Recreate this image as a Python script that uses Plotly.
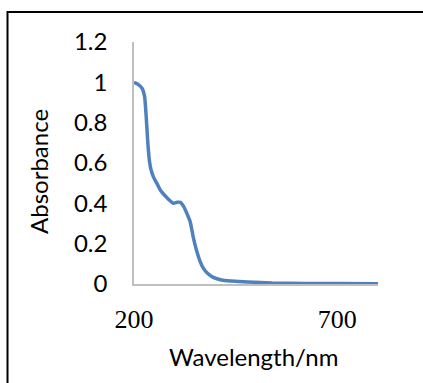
import plotly.graph_objects as go

# UV-Vis absorption spectrum
wavelength_nm = [200, 210, 220, 226, 230, 234, 238, 242, 248, 256, 265, 280, 297, 306,
                 314, 322, 330, 338, 346, 354, 362, 370, 380, 395, 415, 440, 480, 540,
                 620, 700, 800]
absorbance = [1.0, 0.99, 0.97, 0.93, 0.83, 0.70, 0.61, 0.565, 0.53, 0.50, 0.465, 0.43,
              0.40, 0.405, 0.405, 0.385, 0.35, 0.31, 0.23, 0.165, 0.115, 0.08, 0.055,
              0.033, 0.02, 0.015, 0.01, 0.005, 0.003, 0.002, 0.0015]

x_ticks = [200, 700]
y_ticks = [0, 0.2, 0.4, 0.6, 0.8, 1, 1.2]
y_tick_text = ["0", "0.2", "0.4", "0.6", "0.8", "1", "1.2"]

W, H = 423, 383
L, R, T, B = 134, 45, 42, 99
pw, ph = W - L - R, H - T - B


def px_to_paper(px, py):
    return (px - L) / pw, (H - B - py) / ph


fig = go.Figure()
fig.add_trace(go.Scatter(
    x=wavelength_nm, y=absorbance, mode="lines",
    line=dict(color="#4F81BD", width=3.5, shape="spline", smoothing=0.6),
    showlegend=False, hoverinfo="skip",
))

axis_col = "#BFBFBF"
fig.update_xaxes(
    range=[200, 800], tickvals=x_ticks, ticks="", showgrid=False, zeroline=False,
    showline=True, linecolor=axis_col, linewidth=1.5,
    tickfont=dict(family="Liberation Serif", size=26, color="black"),
    ticklabelstandoff=11,
)
fig.update_yaxes(
    range=[0, 1.2], tickvals=y_ticks, ticktext=y_tick_text, ticks="", showgrid=False,
    zeroline=False, showline=True, linecolor=axis_col, linewidth=1.5,
    tickfont=dict(family="Lato", size=24, color="black"),
    ticklabelstandoff=20,
)

# axis titles
xt = px_to_paper(253, 356)
yt = px_to_paper(38, 172)
annos = [
    dict(text="Wavelength/nm", x=xt[0], y=xt[1], xref="paper", yref="paper",
         showarrow=False, xanchor="center", yanchor="middle",
         font=dict(family="Lato", size=24, color="black")),
    dict(text="Absorbance", x=yt[0], y=yt[1], xref="paper", yref="paper",
         showarrow=False, xanchor="center", yanchor="middle", textangle=-90,
         font=dict(family="Lato", size=24, color="black")),
]

# chart frame (left and top edges)
bx, by = px_to_paper(7.5, 12)
frame = dict(type="path", xref="paper", yref="paper",
             path=f"M {bx},-1 L {bx},{by} L 1.5,{by}",
             line=dict(color="black", width=2))

fig.update_layout(
    width=W, height=H, margin=dict(l=L, r=R, t=T, b=B),
    paper_bgcolor="white", plot_bgcolor="white",
    annotations=annos, shapes=[frame],
)

fig.write_html("out.html")
